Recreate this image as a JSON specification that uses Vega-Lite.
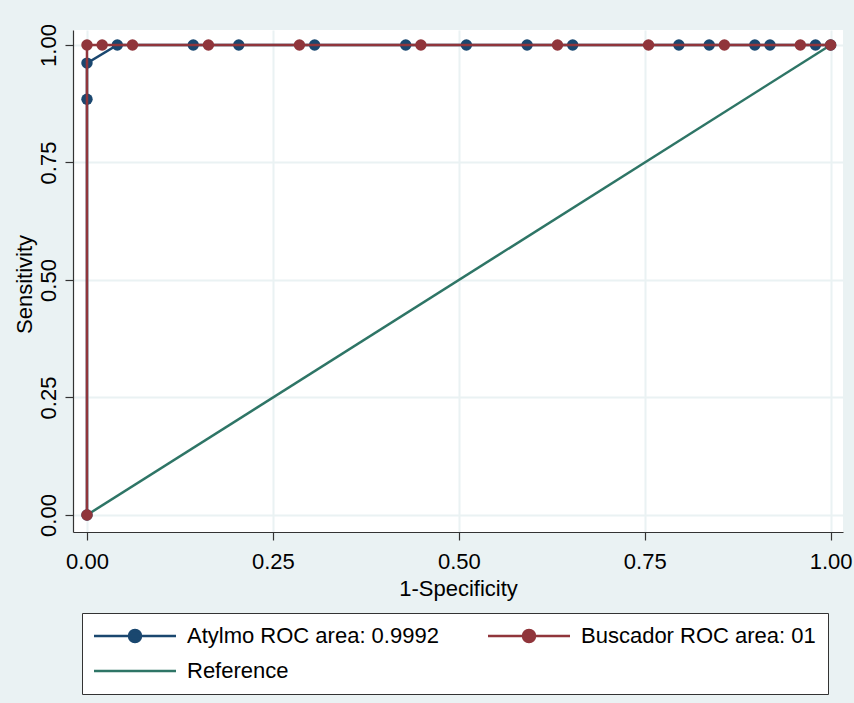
{
  "$schema": "https://vega.github.io/schema/vega-lite/v6.json",
  "width": 770,
  "height": 502,
  "autosize": {"type": "none"},
  "padding": {"left": 73, "top": 30, "right": 11, "bottom": 171},
  "background": "#eaf2f3",
  "config": {
    "view": {"fill": "white", "stroke": null},
    "font": "Liberation Sans",
    "axis": {
      "domainColor": "#333333",
      "domainWidth": 1.2,
      "tickColor": "#333333",
      "tickWidth": 1.2,
      "tickSize": 8,
      "gridColor": "#eaf2f3",
      "gridWidth": 2,
      "labelFont": "Liberation Sans",
      "labelFontSize": 22,
      "labelColor": "black",
      "titleFont": "Liberation Sans",
      "titleFontSize": 22,
      "titleFontWeight": "normal",
      "titleColor": "black",
      "labelFlush": false,
      "labelOverlap": false
    }
  },
  "data": {
    "values": [
      {"series": "Reference", "i": 0, "fpr": 0, "tpr": 0},
      {"series": "Reference", "i": 1, "fpr": 1, "tpr": 1},
      {"series": "Atylmo", "i": 0, "fpr": 0, "tpr": 0},
      {"series": "Atylmo", "i": 1, "fpr": 0, "tpr": 0.8846},
      {"series": "Atylmo", "i": 2, "fpr": 0, "tpr": 0.9615},
      {"series": "Atylmo", "i": 3, "fpr": 0.0408, "tpr": 1},
      {"series": "Atylmo", "i": 4, "fpr": 0.1429, "tpr": 1},
      {"series": "Atylmo", "i": 5, "fpr": 0.2041, "tpr": 1},
      {"series": "Atylmo", "i": 6, "fpr": 0.3061, "tpr": 1},
      {"series": "Atylmo", "i": 7, "fpr": 0.4286, "tpr": 1},
      {"series": "Atylmo", "i": 8, "fpr": 0.5102, "tpr": 1},
      {"series": "Atylmo", "i": 9, "fpr": 0.5918, "tpr": 1},
      {"series": "Atylmo", "i": 10, "fpr": 0.6531, "tpr": 1},
      {"series": "Atylmo", "i": 11, "fpr": 0.7959, "tpr": 1},
      {"series": "Atylmo", "i": 12, "fpr": 0.8367, "tpr": 1},
      {"series": "Atylmo", "i": 13, "fpr": 0.898, "tpr": 1},
      {"series": "Atylmo", "i": 14, "fpr": 0.9184, "tpr": 1},
      {"series": "Atylmo", "i": 15, "fpr": 0.9796, "tpr": 1},
      {"series": "Atylmo", "i": 16, "fpr": 1, "tpr": 1},
      {"series": "Buscador", "i": 0, "fpr": 0, "tpr": 0},
      {"series": "Buscador", "i": 1, "fpr": 0, "tpr": 1},
      {"series": "Buscador", "i": 2, "fpr": 0.0204, "tpr": 1},
      {"series": "Buscador", "i": 3, "fpr": 0.0612, "tpr": 1},
      {"series": "Buscador", "i": 4, "fpr": 0.1633, "tpr": 1},
      {"series": "Buscador", "i": 5, "fpr": 0.2857, "tpr": 1},
      {"series": "Buscador", "i": 6, "fpr": 0.449, "tpr": 1},
      {"series": "Buscador", "i": 7, "fpr": 0.6327, "tpr": 1},
      {"series": "Buscador", "i": 8, "fpr": 0.7551, "tpr": 1},
      {"series": "Buscador", "i": 9, "fpr": 0.8571, "tpr": 1},
      {"series": "Buscador", "i": 10, "fpr": 0.9592, "tpr": 1},
      {"series": "Buscador", "i": 11, "fpr": 1, "tpr": 1}
    ]
  },
  "encoding": {
    "x": {
      "field": "fpr",
      "type": "quantitative",
      "scale": {"domain": [-0.0188, 1.0166], "nice": false, "zero": false},
      "axis": {
        "values": [0, 0.25, 0.5, 0.75, 1],
        "format": ".2f",
        "title": "1-Specificity",
        "labelPadding": 11,
        "labelBaseline": "top",
        "titleBaseline": "alphabetic",
        "titleAlign": "center",
        "titleX": 385,
        "titleY": 63
      }
    },
    "y": {
      "field": "tpr",
      "type": "quantitative",
      "scale": {"domain": [-0.0362, 1.0319], "nice": false, "zero": false},
      "axis": {
        "values": [0, 0.25, 0.5, 0.75, 1],
        "format": ".2f",
        "title": "Sensitivity",
        "labelAngle": -90,
        "labelAlign": "center",
        "labelBaseline": "alphabetic",
        "labelPadding": 10,
        "titleAngle": -90,
        "titleBaseline": "alphabetic",
        "titleAlign": "center",
        "titleX": -42,
        "titleY": 254
      }
    },
    "order": {"field": "i", "type": "quantitative"}
  },
  "layer": [
    {
      "transform": [{"filter": "datum.series == 'Reference'"}],
      "mark": {"type": "line", "color": "#2e7566", "strokeWidth": 2.5}
    },
    {
      "transform": [{"filter": "datum.series == 'Atylmo'"}],
      "mark": {"type": "line", "color": "#1a476f", "strokeWidth": 2.5}
    },
    {
      "transform": [{"filter": "datum.series == 'Atylmo'"}],
      "mark": {"type": "point", "shape": "circle", "filled": true, "opacity": 1, "color": "#1a476f", "size": 130}
    },
    {
      "transform": [{"filter": "datum.series == 'Buscador'"}],
      "mark": {"type": "line", "color": "#90353b", "strokeWidth": 2.5}
    },
    {
      "transform": [{"filter": "datum.series == 'Buscador'"}],
      "mark": {"type": "point", "shape": "circle", "filled": true, "opacity": 1, "color": "#90353b", "size": 130}
    },
    {
      "mark": {"type": "point", "filled": true, "opacity": 0},
      "encoding": {
        "color": {
          "field": "series",
          "type": "nominal",
          "scale": {"domain": ["Atylmo", "Reference", "Buscador"], "range": ["#1a476f", "#2e7566", "#90353b"]},
          "legend": {
            "orient": "none",
            "legendX": 9,
            "legendY": 583,
            "title": null,
            "columns": 2,
            "columnPadding": 44,
            "rowPadding": 13,
            "padding": 12,
            "strokeColor": "#333333",
            "fillColor": "white",
            "symbolSize": 100,
            "symbolStrokeWidth": 2.5,
            "symbolOpacity": 1,
            "labelOffset": 71,
            "labelFont": "Liberation Sans",
            "labelFontSize": 22,
            "labelColor": "black",
            "labelLimit": 400,
            "labelExpr": "datum.label == 'Atylmo' ? 'Atylmo ROC area: 0.9992' : datum.label == 'Buscador' ? 'Buscador ROC area: 01' : datum.label",
            "encode": {
              "symbols": {
                "update": {
                  "fill": {"scale": "color", "field": "value"},
                  "stroke": {"scale": "color", "field": "value"},
                  "strokeWidth": {"value": 2.5},
                  "opacity": {"value": 1}
                }
              }
            }
          }
        },
        "shape": {
          "field": "series",
          "type": "nominal",
          "scale": {
            "domain": ["Atylmo", "Reference", "Buscador"],
            "range": [
              "M-2.2,0L14.2,0M7.2,0A1.2,1.2,0,1,1,4.8,0A1.2,1.2,0,1,1,7.2,0Z",
              "M-2.2,0L14.2,0",
              "M-2.2,0L14.2,0M7.2,0A1.2,1.2,0,1,1,4.8,0A1.2,1.2,0,1,1,7.2,0Z"
            ]
          }
        }
      }
    }
  ]
}
